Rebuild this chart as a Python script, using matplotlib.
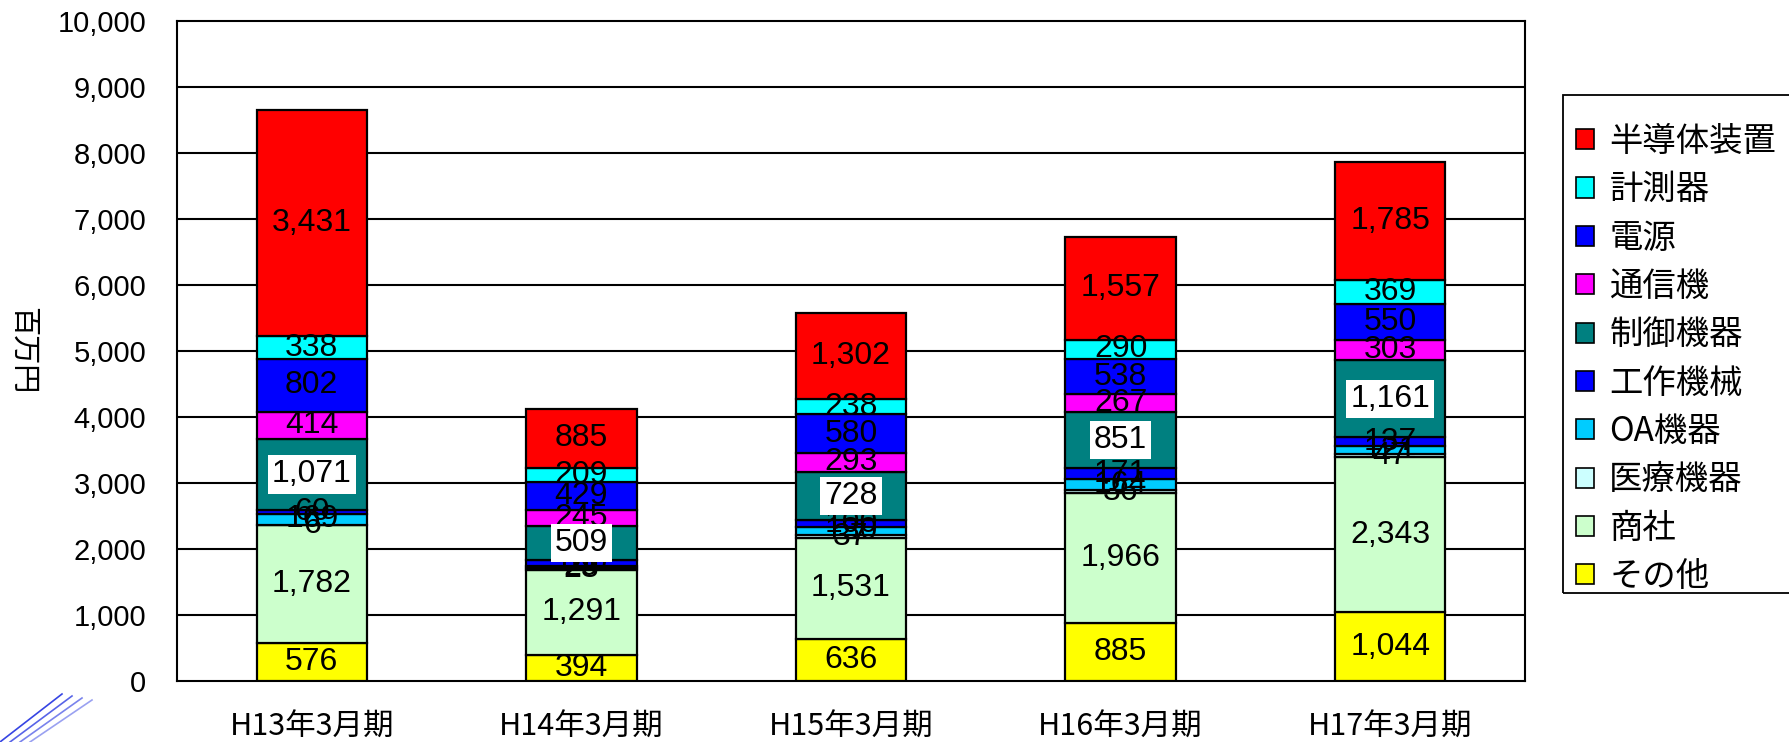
import matplotlib
matplotlib.use("Agg")
import matplotlib.pyplot as plt
from matplotlib.patches import Patch, Rectangle
from matplotlib.lines import Line2D
import numpy as np

plt.rcParams['font.family'] = ['Noto Sans CJK JP', 'DejaVu Sans']

periods = ["H13年3月期", "H14年3月期", "H15年3月期", "H16年3月期", "H17年3月期"]

# stack order bottom -> top
categories = ["その他", "商社", "医療機器", "OA機器", "工作機械",
              "制御機器", "通信機", "電源", "計測器", "半導体装置"]

sonota   = [576, 394, 636, 885, 1044]
shosha   = [1782, 1291, 1531, 1966, 2343]
iryo     = [6, 23, 37, 36, 47]
oa       = [169, 29, 130, 164, 121]
kosaku   = [60, 100, 100, 171, 137]
seigyo   = [1071, 509, 728, 851, 1161]
tsushin  = [414, 245, 293, 267, 303]
dengen   = [802, 429, 580, 538, 550]
keisoku  = [338, 209, 238, 290, 369]
handotai = [3431, 885, 1302, 1557, 1785]

series = [sonota, shosha, iryo, oa, kosaku, seigyo, tsushin, dengen, keisoku, handotai]
colors = ["#FFFF00", "#CCFFCC", "#CCFFFF", "#00CCFF", "#0000FF",
          "#008080", "#FF00FF", "#0000FF", "#00FFFF", "#FF0000"]

yticks = list(range(0, 10001, 1000))

W, H = 1789, 742
fig = plt.figure(figsize=(W / 100, H / 100), dpi=100)
ax = fig.add_axes([177 / W, 1 - 681 / H, (1525 - 177) / W, (681 - 20.5) / H])

x = np.arange(len(periods))
bottom = np.zeros(len(periods))
for vals, col, name in zip(series, colors, categories):
    v = np.array(vals, dtype=float)
    ax.bar(x, v, width=0.41, bottom=bottom, color=col, edgecolor="black",
           linewidth=1.6, zorder=3, label=name)
    for xi, b, h in zip(x, bottom, v):
        boxed = (name == "制御機器")
        kw = dict(ha="center", va="center", fontsize=23,
                  family=["Liberation Sans", "DejaVu Sans"], color="black")
        if boxed:
            ax.text(xi, b + h / 2, f"{int(h):,}", zorder=6,
                    bbox=dict(facecolor="white", edgecolor="none", pad=3), **kw)
        else:
            ax.text(xi, b + h / 2, f"{int(h):,}", zorder=5, **kw)
    bottom += v

ax.set_xlim(-0.5, len(periods) - 0.5)
ax.set_ylim(0, 10000)
ax.set_yticks(yticks)
ax.set_yticklabels([f"{t:,}" for t in yticks], family=["Liberation Sans", "DejaVu Sans"],
                   fontsize=21)
ax.set_xticks(x)
ax.set_xticklabels(periods, fontsize=22)
ax.tick_params(axis="y", length=0, pad=22)
ax.tick_params(axis="x", length=0, pad=22)
for t in yticks[1:-1]:
    ax.axhline(t, color="black", linewidth=1.5, zorder=1)
for s in ax.spines.values():
    s.set_color("black")
    s.set_linewidth(1.5)

ax.set_ylabel("百万円", rotation=270, fontsize=21, va="bottom")
ax.yaxis.set_label_coords(-0.126, 0.5)

# legend frame (extends past the right edge like the original)
fig.add_artist(Rectangle((1563 / W, 1 - 593 / H), 0.2, (593 - 95) / H,
                         transform=fig.transFigure, fill=False,
                         edgecolor="black", linewidth=1.3, clip_on=False))

handles = [Patch(facecolor=c, edgecolor="black", linewidth=1.2) for c in colors]
leg = fig.legend(handles[::-1], categories[::-1], loc="upper left",
                 bbox_to_anchor=(1576 / W, 1 - 124 / H), fontsize=24,
                 frameon=False,
                 handlelength=0.55, handleheight=0.55, handletextpad=0.45,
                 labelspacing=0.40, borderpad=0, borderaxespad=0)

# decorative blue stripes in the bottom-left corner
for i, off in enumerate([0, 10, 20, 30]):
    fig.add_artist(Line2D([(0 + off) / W, (62 + off) / W],
                          [1 - (742) / H, 1 - (694 + off * 0.2) / H],
                          color="#2030E0", linewidth=1.2, alpha=0.9 - i * 0.15))

fig.savefig("out.png", dpi=100)
